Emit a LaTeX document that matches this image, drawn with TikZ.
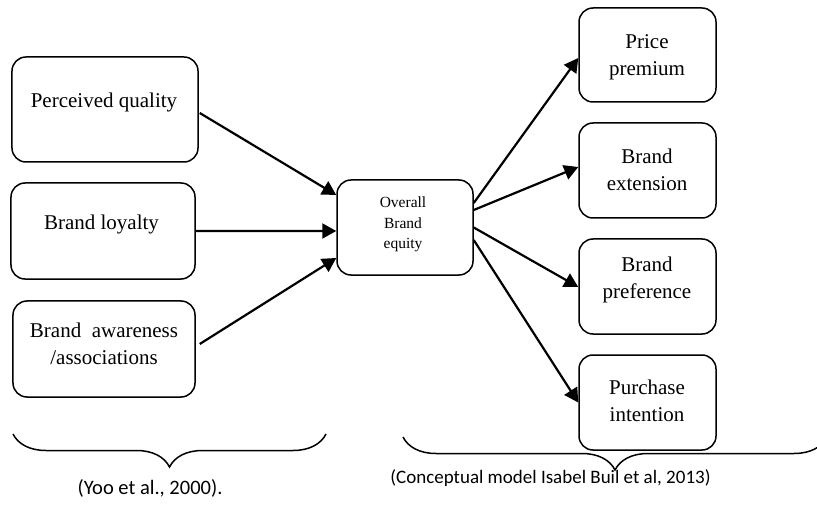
\documentclass[tikz,border=0pt]{standalone}
\usepackage{fontspec}
\setmainfont{Liberation Serif}
\newfontfamily\capfont{Carlito}
\usetikzlibrary{arrows.meta,decorations.pathreplacing,calc}
\begin{document}
\begin{tikzpicture}[x=1bp,y=-1bp,
  box/.style={draw,line width=1.5bp,rounded corners=14bp,inner sep=0pt},
  lbl/.style={font=\fontsize{21bp}{27bp}\selectfont,align=center,inner sep=0pt},
  small/.style={font=\fontsize{15.5bp}{20.5bp}\selectfont,align=center,inner sep=0pt},
  arr/.style={line width=2.2bp,-{Triangle[length=14bp,width=15bp]}},
  brc/.style={line width=1.5bp,decorate,decoration={brace,mirror,amplitude=33bp}},
  captxt/.style={font=\capfont\fontsize{19bp}{22bp}\selectfont,inner sep=0pt}]
\fill[white] (0,0) rectangle (817,505);
\useasboundingbox (0,0) rectangle (817,505);
% left boxes
\node[box,minimum width=186bp,minimum height=105bp] (pq) at (105,109.5) {};
\node[box,minimum width=184bp,minimum height=96bp] (bl) at (103,231) {};
\node[box,minimum width=182bp,minimum height=96bp] (ba) at (104,349) {};
\node[lbl] (pqt) at (104,102) {Perceived quality};
\node[lbl] (blt) at (101.5,224) {Brand loyalty};
\node[lbl] (bat) at (104,344) {Brand\ \ awareness\\/associations};
% centre box
\node[box,minimum width=136bp,minimum height=95bp] (ov) at (405,227.5) {};
\node[small] (ovt) at (403,224.5) {Overall\\Brand\\equity};
% right boxes
\node[box,minimum width=137bp,minimum height=94bp] (pp) at (647.5,55) {};
\node[box,minimum width=137bp,minimum height=95bp] (be) at (647.5,170.5) {};
\node[box,minimum width=137bp,minimum height=95bp] (bp) at (647.5,286.5) {};
\node[box,minimum width=137bp,minimum height=95bp] (pi) at (647.5,402.5) {};
\node[lbl] (ppt) at (647,57) {Price\\premium};
\node[lbl] (bet) at (647,169.5) {Brand\\extension};
\node[lbl] (bpt) at (647,280) {Brand\\preference};
\node[lbl] (pit) at (647,400.5) {Purchase\\intention};
% arrows in
\draw[arr] ($(pq.east)+(1,3.5)$) -- ($(ov.west)+(0,-32.5)$);
\draw[arr] (bl.east) -- ($(ov.west)+(0,3.5)$);
\draw[arr] ($(ba.east)+(4,-5)$) -- ($(ov.west)+(0,30.5)$);
% arrows out
\draw[arr] ($(ov.east)+(0,-24.5)$) -- ($(pp.west)+(0,3)$);
\draw[arr] ($(ov.east)+(0,-17.5)$) -- ($(be.west)+(0,-3.5)$);
\draw[arr] (ov.east) -- ($(bp.west)+(0,0.5)$);
\draw[arr] ($(ov.east)+(0,12.5)$) -- (pi.west);
% braces
\coordinate (b1a) at (13,434);
\coordinate (b1b) at (326,434);
\coordinate (b2a) at (403,437);
\coordinate (b2b) at (827,437);
\draw[brc] (b1a) -- (b1b);
\draw[brc] (b2a) -- (b2b);
% captions
\node[captxt,font=\capfont\fontsize{20.5bp}{24bp}\selectfont] (c1) at (150,488) {(Yoo et al., 2000).};
\node[captxt] (c2) at (550.5,478) {(Conceptual model Isabel Buil et al, 2013)};
\end{tikzpicture}
\end{document}
